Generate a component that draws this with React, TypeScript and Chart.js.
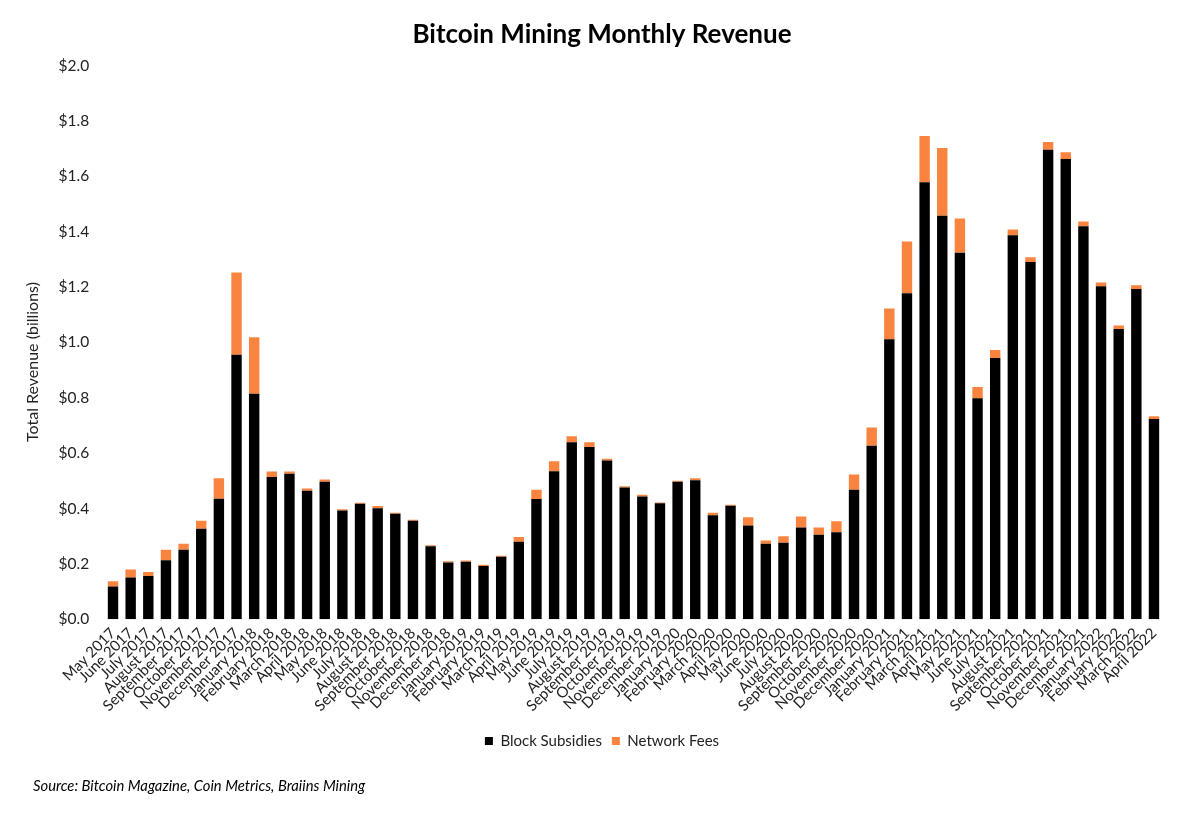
import React, { useEffect, useRef } from "react";
import { Chart, registerables } from "chart.js";

Chart.register(...registerables);

const months: string[] = [
  "May 2017", "June 2017", "July 2017", "August 2017", "September 2017", "October 2017", "November 2017", "December 2017",
  "January 2018", "February 2018", "March 2018", "April 2018", "May 2018", "June 2018", "July 2018", "August 2018",
  "September 2018", "October 2018", "November 2018", "December 2018", "January 2019", "February 2019", "March 2019",
  "April 2019", "May 2019", "June 2019", "July 2019", "August 2019", "September 2019", "October 2019", "November 2019",
  "December 2019", "January 2020", "February 2020", "March 2020", "April 2020", "May 2020", "June 2020", "July 2020",
  "August 2020", "September 2020", "October 2020", "November 2020", "December 2020", "January 2021", "February 2021",
  "March 2021", "April 2021", "May 2021", "June 2021", "July 2021", "August 2021", "September 2021", "October 2021",
  "November 2021", "December 2021", "January 2022", "February 2022", "March 2022", "April 2022",
];

const blockSubsidies: number[] = [
  0.118, 0.151, 0.156, 0.213, 0.251, 0.327, 0.435, 0.956, 0.815, 0.514, 0.526, 0.464,
  0.497, 0.393, 0.417, 0.401, 0.381, 0.356, 0.264, 0.205, 0.208, 0.192, 0.226, 0.280,
  0.434, 0.535, 0.639, 0.622, 0.573, 0.476, 0.443, 0.419, 0.497, 0.502, 0.376, 0.410,
  0.339, 0.273, 0.276, 0.331, 0.305, 0.314, 0.468, 0.627, 1.012, 1.178, 1.579, 1.458,
  1.324, 0.798, 0.944, 1.387, 1.291, 1.696, 1.663, 1.420, 1.203, 1.049, 1.193, 0.723,
];

const networkFees: number[] = [
  0.019, 0.029, 0.015, 0.038, 0.022, 0.029, 0.074, 0.297, 0.204, 0.020, 0.008, 0.008,
  0.008, 0.004, 0.004, 0.008, 0.004, 0.003, 0.003, 0.004, 0.004, 0.005, 0.003, 0.017,
  0.034, 0.036, 0.022, 0.017, 0.007, 0.004, 0.007, 0.003, 0.003, 0.007, 0.009, 0.004,
  0.029, 0.011, 0.024, 0.040, 0.026, 0.040, 0.055, 0.066, 0.111, 0.187, 0.167, 0.245,
  0.124, 0.041, 0.029, 0.021, 0.017, 0.028, 0.024, 0.017, 0.014, 0.012, 0.014, 0.010,
];

const yAxisTitle = "Total Revenue (billions)";
const FONT = "Lato, 'Open Sans', sans-serif";

const yTitlePlugin = {
  id: "yTitle",
  afterDraw(chart: any) {
    const ctx = chart.ctx;
    ctx.save();
    ctx.translate(32.5, 362);
    ctx.rotate(-Math.PI / 2);
    ctx.textAlign = "center";
    ctx.textBaseline = "middle";
    ctx.fillStyle = "#222";
    ctx.font = `16px ${FONT}`;
    ctx.fillText(yAxisTitle, 0, 0);
    ctx.restore();
  },
};

export default function App() {
  const canvasRef = useRef<HTMLCanvasElement | null>(null);

  useEffect(() => {
    document.body.style.margin = "0";
    const canvas = canvasRef.current;
    if (!canvas) return;
    const chart = new Chart(canvas, {
      type: "bar",
      data: {
        labels: months,
        datasets: [
          {
            label: "Block Subsidies",
            data: blockSubsidies,
            backgroundColor: "#000000",
            barPercentage: 0.59,
            categoryPercentage: 1,
          },
          {
            label: "Network Fees",
            data: networkFees,
            backgroundColor: "#F8843F",
            barPercentage: 0.59,
            categoryPercentage: 1,
          },
        ],
      },
      plugins: [yTitlePlugin],
      options: {
        responsive: false,
        animation: false,
        layout: { padding: { top: 18, left: 30, right: 26, bottom: 64.5 } },
        plugins: {
          title: {
            display: true,
            text: "Bitcoin Mining Monthly Revenue",
            color: "#000",
            font: { family: FONT, size: 26, weight: "bold" },
            padding: { top: 1.4, bottom: 15.1 },
          },
          legend: {
            position: "bottom",
            labels: {
              color: "#222",
              font: { family: FONT, size: 15 },
              boxWidth: 8,
              boxHeight: 8,
              padding: 10,
            },
          },
          tooltip: { enabled: false },
        },
        scales: {
          x: {
            stacked: true,
            grid: { display: false, drawTicks: false },
            border: { display: false },
            ticks: {
              color: "#222",
              font: { family: FONT, size: 15 },
              minRotation: 45,
              maxRotation: 45,
              autoSkip: false,
              padding: 5,
            },
            afterFit: (s: any) => {
              s.height = 104.3;
            },
          },
          y: {
            stacked: true,
            min: 0,
            max: 2,
            grid: { display: false, drawTicks: false },
            border: { display: false },
            ticks: {
              stepSize: 0.2,
              color: "#222",
              font: { family: FONT, size: 15.5 },
              padding: 15,
              callback: (v: any) => "$" + Number(v).toFixed(1),
            },
            afterFit: (s: any) => {
              s.width = 74.2;
            },
          },
          yRight: {
            position: "right",
            display: true,
            min: 0,
            max: 2,
            grid: { display: false, drawTicks: false },
            border: { display: false },
            ticks: { display: false },
            afterFit: (s: any) => {
              s.width = 11.2;
            },
          },
        },
      },
    });
    return () => chart.destroy();
  }, []);

  return (
    <div style={{ position: "relative", width: 1200, height: 823, background: "#fff" }}>
      <canvas ref={canvasRef} width={1200} height={823} />
      <div
        style={{
          position: "absolute",
          left: 33,
          top: 777,
          fontFamily: FONT,
          fontStyle: "italic",
          fontSize: 14.8,
          lineHeight: "16px",
          color: "#000",
          whiteSpace: "nowrap",
        }}
      >
        Source: Bitcoin Magazine, Coin Metrics, Braiins Mining
      </div>
    </div>
  );
}
